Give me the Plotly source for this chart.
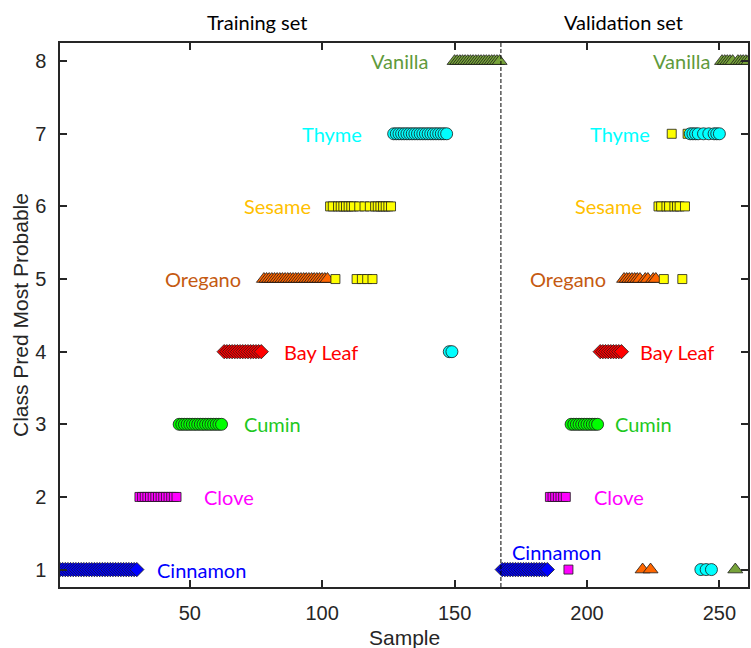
import plotly.graph_objects as go

# ---------------- data ----------------
CLASS_NAMES = ["Cinnamon", "Clove", "Cumin", "Bay Leaf", "Oregano", "Sesame", "Thyme", "Vanilla"]
CLASS_IDS = [1, 2, 3, 4, 5, 6, 7, 8]

# consecutive sample numbers of each true class
TRAIN_FIRST = [1, 31, 46, 63, 78, 103, 127, 150]
TRAIN_LAST = [30, 45, 62, 77, 102, 126, 149, 167]
VALID_FIRST = [168, 186, 194, 205, 214, 227, 239, 251]
VALID_LAST = [185, 193, 204, 213, 226, 238, 250, 261]

# samples whose most probable predicted class differs from the true class
WRONG_SAMPLES = [105, 113, 115, 117, 119, 148, 149, 193, 221, 224, 229, 236, 232, 238, 243, 245, 247, 256]
WRONG_PRED = [5, 5, 5, 5, 5, 4, 4, 1, 1, 1, 5, 5, 7, 7, 1, 1, 1, 1]

SPLIT_SAMPLE = 167.5
X_TICKS = [50, 100, 150, 200, 250]
Y_TICKS = [1, 2, 3, 4, 5, 6, 7, 8]
SET_TITLES = ["Training set", "Validation set"]

# ---------------- styles ----------------
MARKER_SYMBOLS = ["diamond", "square", "circle", "diamond", "triangle-up", "square", "circle", "triangle-up"]
MARKER_SIZES = [11, 9, 12, 11, 13, 9, 12, 13]
MARKER_COLORS = ["#0000ff", "#ff00ff", "#00ff00", "#ff0000", "#ff6600", "#ffff00", "#00ffff", "#77a33a"]
LABEL_COLORS = ["#0000ff", "#ff00ff", "#1ec81e", "#ff0000", "#c55a11", "#ffc000", "#00ffff", "#5f9a3c"]

# label anchor positions (x in samples, y in class units, anchor)
TRAIN_LABEL_POS = [(37.3, 1, "left"), (54.9, 2, "left"), (70.0, 3, "left"), (85.1, 4, "left"),
                   (69.6, 5, "right"), (96.0, 6, "right"), (115.6, 7, "right"), (140.5, 8, "right")]
VALID_LABEL_POS = [(171.4, 1.24, "left"), (202.3, 2, "left"), (210.2, 3, "left"), (219.6, 4, "left"),
                   (207.5, 5, "right"), (221.1, 6, "right"), (224.1, 7, "right"), (246.7, 8, "right")]
SET_TITLE_X = [75.3, 213.9]

wrong = dict(zip(WRONG_SAMPLES, WRONG_PRED))

fig = go.Figure()
for i, name in enumerate(CLASS_NAMES):
    xs, ys = [], []
    for first, last in ((TRAIN_FIRST[i], TRAIN_LAST[i]), (VALID_FIRST[i], VALID_LAST[i])):
        for s in range(first, last + 1):
            xs.append(s)
            ys.append(wrong.get(s, CLASS_IDS[i]))
    fig.add_trace(go.Scatter(
        x=xs, y=ys, mode="markers", name=name, showlegend=False,
        marker=dict(symbol=MARKER_SYMBOLS[i], size=MARKER_SIZES[i], color=MARKER_COLORS[i],
                    line=dict(color="#1a1a1a", width=0.8)),
        cliponaxis=True,
    ))

label_font = "Lato, 'Open Sans', sans-serif"
for i, name in enumerate(CLASS_NAMES):
    for (x, y, anchor) in (TRAIN_LABEL_POS[i], VALID_LABEL_POS[i]):
        fig.add_annotation(x=x, y=y, xref="x", yref="y", text=name, showarrow=False,
                           xanchor=anchor, yanchor="middle", borderpad=0,
                           font=dict(family=label_font, size=20, color=LABEL_COLORS[i]))

for t, x in zip(SET_TITLES, SET_TITLE_X):
    fig.add_annotation(x=x, y=1, xref="x", yref="paper", yshift=21, text=t, showarrow=False,
                       xanchor="center", yanchor="middle",
                       font=dict(family=label_font, size=20, color="#000000"))

axis_font = "'Liberation Sans', Arial, sans-serif"
fig.add_annotation(x=0.5, y=0, xref="paper", yref="paper", yshift=-50, text="Sample",
                   showarrow=False, xanchor="center", yanchor="middle",
                   font=dict(family=axis_font, size=21, color="#262626"))
fig.add_annotation(x=0, y=0.5, xref="paper", yref="paper", xshift=-40, text="Class Pred Most Probable",
                   showarrow=False, xanchor="center", yanchor="middle", textangle=-90,
                   font=dict(family=axis_font, size=21, color="#262626"))

fig.add_shape(type="line", x0=SPLIT_SAMPLE, x1=SPLIT_SAMPLE, y0=0, y1=1, xref="x", yref="paper",
              line=dict(color="#000000", width=1, dash="4px,2px"), layer="above")

fig.update_xaxes(range=[1, 260.8], tickvals=X_TICKS, ticks="inside", ticklen=7, tickwidth=1.5,
                 tickcolor="#262626", showline=True, linecolor="#262626", linewidth=1.5,
                 mirror="ticks", showgrid=False, zeroline=False, ticklabelstandoff=7,
                 tickfont=dict(family=axis_font, size=20, color="#262626"))
fig.update_yaxes(range=[0.76, 8.25], tickvals=Y_TICKS, ticks="inside", ticklen=7, tickwidth=1.5,
                 tickcolor="#262626", showline=True, linecolor="#262626", linewidth=1.5,
                 mirror="ticks", showgrid=False, zeroline=False, ticklabelstandoff=8,
                 tickfont=dict(family=axis_font, size=20, color="#262626"))

fig.update_layout(width=751, height=648, margin=dict(l=60, r=1, t=43, b=61),
                  plot_bgcolor="white", paper_bgcolor="white", showlegend=False)

fig.write_html("out.html")
